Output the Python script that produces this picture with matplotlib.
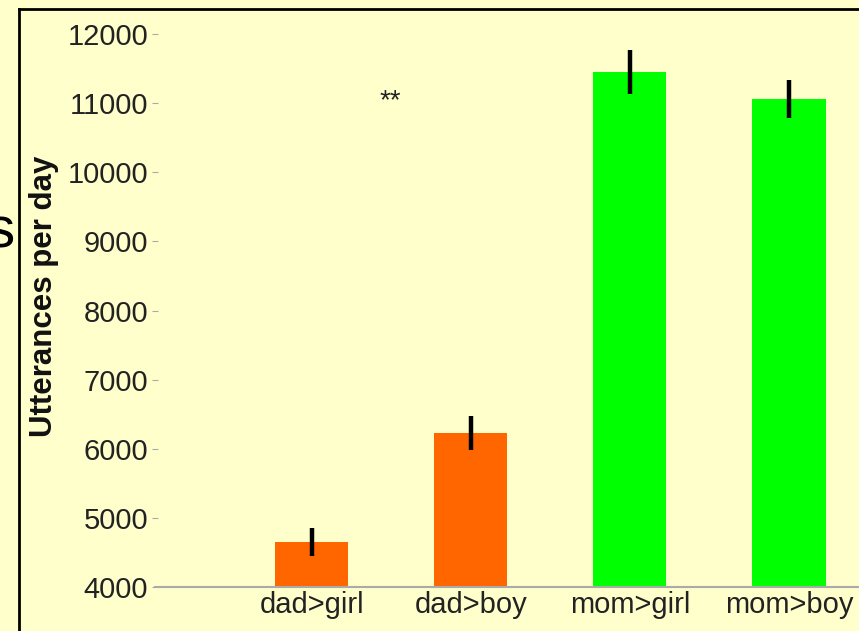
import matplotlib
matplotlib.use("Agg")
import matplotlib.pyplot as plt

categories = ["dad>girl", "dad>boy", "mom>girl", "mom>boy"]
values = [4650, 6230, 11450, 11060]
errors = [200, 250, 325, 280]
colors = ["#FF6600", "#FF6600", "#00FF00", "#00FF00"]
yticks = [4000, 5000, 6000, 7000, 8000, 9000, 10000, 11000, 12000]

bg = "#FFFFCC"
plt.rcParams["font.family"] = ["Liberation Sans", "DejaVu Sans"]

fig = plt.figure(figsize=(8.59, 6.31), dpi=100, facecolor=bg)
ax = fig.add_axes([155/859, 44/631, (859-155)/859, (587-34)/631])
ax.set_facecolor(bg)

x = list(range(len(categories)))
ax.bar(x, values, width=0.46, color=colors, edgecolor="none", zorder=2)
ax.errorbar(x, values, yerr=errors, fmt="none", ecolor="black", elinewidth=3.2, capsize=0, zorder=3)

ax.set_xlim(-0.985, 3.44)
ax.set_ylim(4000, 12000)
ax.set_yticks(yticks)
ax.set_yticklabels([str(v) for v in yticks], fontsize=21, color="#222222")
ax.set_xticks(x)
ax.set_xticklabels(categories, fontsize=21, color="#222222")
ax.tick_params(axis="x", length=0, pad=3)
ax.tick_params(axis="y", length=4, width=0.8, color="#aaaaaa", direction="inout", pad=3)

for s in ["top", "right", "left"]:
    ax.spines[s].set_visible(False)
ax.spines["bottom"].set_color("#aaaaaa")
ax.spines["bottom"].set_linewidth(1.5)

ax.set_ylabel("Utterances per day", fontsize=22.5, fontweight="bold", color="#111111")
ax.yaxis.set_label_coords((59-155)/704, (587-296)/553)

ax.text(0.494, 11030, "**", ha="center", va="center", fontsize=20, color="#222222")

# frame border (top and left)
fig.add_artist(plt.Line2D([19/859, 1], [1-9/631, 1-9/631], color="black", lw=2, transform=fig.transFigure))
fig.add_artist(plt.Line2D([19/859, 19/859], [0, 1-9/631], color="black", lw=2, transform=fig.transFigure))

# cut-off text at left edge
fig.text(15/859, 1-232/631, "s", ha="right", va="center", fontsize=42, color="black")

fig.savefig("out.png", dpi=100, facecolor=bg)
